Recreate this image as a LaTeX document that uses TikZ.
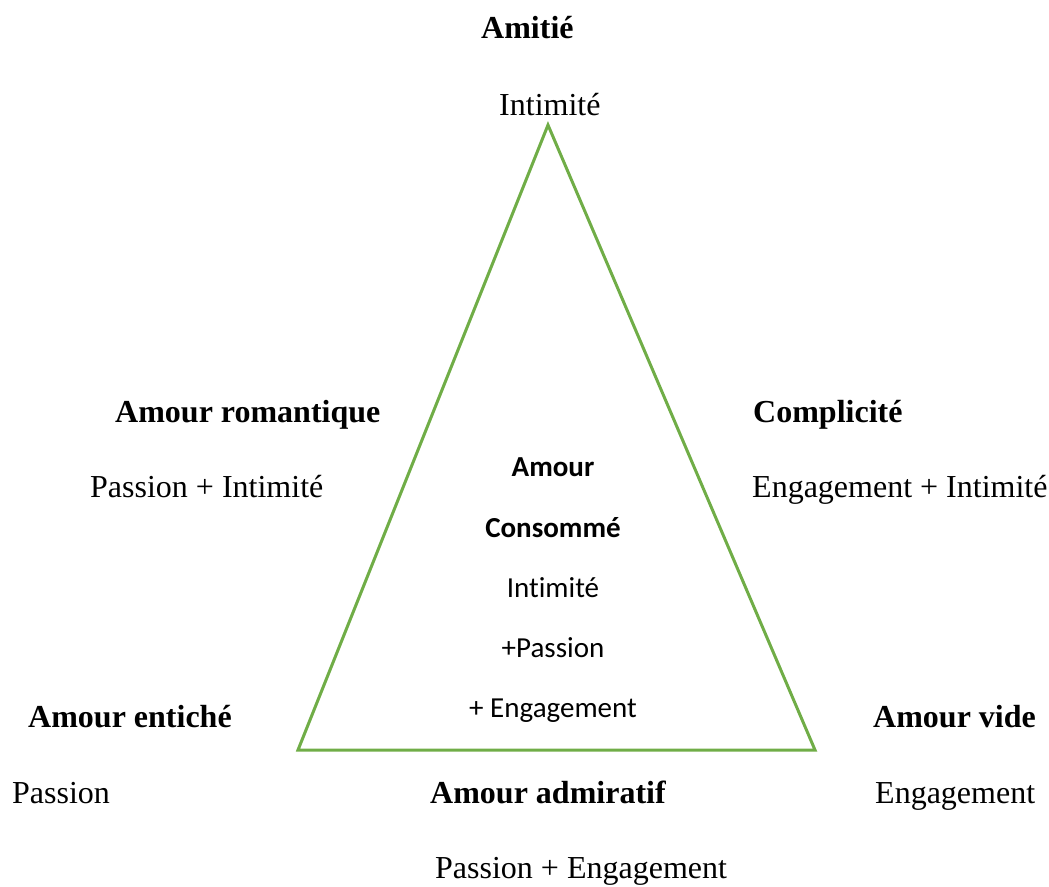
\documentclass[tikz,border=0pt]{standalone}
\usepackage{fontspec}
\setmainfont{Liberation Serif}
\newfontfamily\calib[Ligatures=NoCommon]{Carlito}
\definecolor{trigreen}{HTML}{70AD47}
\tikzset{
  lbl/.style={anchor=base west, inner sep=0pt, font=\fontsize{32}{38}\selectfont},
  blbl/.style={lbl, font=\fontsize{32}{38}\selectfont\bfseries},
  ctr/.style={anchor=base, inner sep=0pt, font=\calib\fontsize{29}{34}\selectfont},
  bctr/.style={ctr, font=\calib\fontsize{29}{34}\selectfont\bfseries},
  tri/.style={draw=trigreen, line width=3pt, line join=miter}
}
\begin{document}
\begin{tikzpicture}[x=1pt,y=-1pt]
\useasboundingbox (0,0) rectangle (1049,886);
\coordinate (A) at (548,125);
\coordinate (B) at (298,750);
\coordinate (C) at (815,750);
\draw[tri] (A) -- (B) -- (C) -- cycle;
\node[blbl] (amitie) at (481,38) {Amitié};
\node[lbl] (intimite) at (499,115) {Intimité};
\node[blbl] (romant) at (115,422) {Amour romantique};
\node[lbl] (pi) at (90,497) {Passion + Intimité};
\node[blbl] (compl) at (753,422) {Complicité};
\node[lbl] (ei) at (752,497) {Engagement + Intimité};
\node[blbl] (entiche) at (28,727) {Amour entiché};
\node[lbl] (passion) at (12,803) {Passion};
\node[blbl] (vide) at (873,727) {Amour vide};
\node[lbl] (engag) at (875,803) {Engagement};
\node[blbl] (admir) at (430,803) {Amour admiratif};
\node[lbl] (pe) at (435,878) {Passion + Engagement};
\node[bctr] (c1) at (553,476) {Amour};
\node[bctr] (c2) at (553,537) {Consommé};
\node[ctr] (c3) at (553,597) {Intimité};
\node[ctr] (c4) at (553,657) {+Passion};
\node[ctr] (c5) at (553,717) {+ Engagement};
\end{tikzpicture}
\end{document}
